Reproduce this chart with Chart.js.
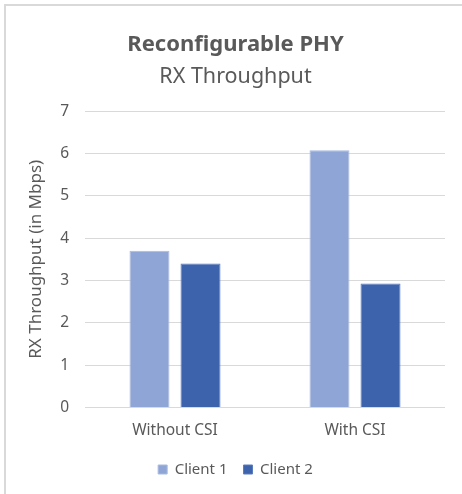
<!DOCTYPE html>
<html lang="en">
<head>
<meta charset="UTF-8">
<title>Reconfigurable PHY</title>
<script src="https://cdn.jsdelivr.net/npm/chart.js"></script>
<style>
    body {
        margin: 0;
        background: #ffffff;
    }
    .frame {
        position: absolute;
        left: 4px;
        top: 4px;
        width: 470px;
        height: 500px;
        border-left: 2px solid #d9d9d9;
        border-top: 2px solid #d9d9d9;
        pointer-events: none;
    }
    #chart {
        position: absolute;
        left: 0;
        top: 0;
    }
</style>
</head>
<body>
<canvas id="chart" width="462" height="494"></canvas>
<div class="frame"></div>
<script>
    // data
    const categories = ['Without CSI', 'With CSI'];
    const client1 = [3.7, 6.08];
    const client2 = [3.4, 2.93];
    const seriesNames = ['Client 1', 'Client 2'];
    const yTicks = [0, 1, 2, 3, 4, 5, 6, 7];

    const textColor = '#595959';
    const gridColor = '#d9d9d9';
    const fontFamily = '"Noto Sans", sans-serif';

    const ctx = document.getElementById('chart').getContext('2d');
    new Chart(ctx, {
        type: 'bar',
        data: {
            labels: categories,
            datasets: [
                {
                    label: seriesNames[0],
                    data: client1,
                    backgroundColor: '#8fa5d5',
                    borderColor: '#a9bbe0',
                    borderWidth: 1,
                    categoryPercentage: 0.567,
                    barPercentage: 0.784
                },
                {
                    label: seriesNames[1],
                    data: client2,
                    backgroundColor: '#3c63ac',
                    borderColor: '#5a7dbf',
                    borderWidth: 1,
                    categoryPercentage: 0.567,
                    barPercentage: 0.784
                }
            ]
        },
        options: {
            responsive: false,
            animation: false,
            layout: {
                padding: { left: 26, right: 17, top: 28, bottom: 7 }
            },
            plugins: {
                title: {
                    display: true,
                    text: 'Reconfigurable PHY',
                    color: textColor,
                    font: { family: fontFamily, size: 22, weight: 'bold' },
                    padding: { top: 4, bottom: 6 }
                },
                subtitle: {
                    display: true,
                    text: 'RX Throughput',
                    color: textColor,
                    font: { family: fontFamily, size: 21.5 },
                    padding: { top: 0, bottom: 21 }
                },
                legend: {
                    position: 'bottom',
                    labels: {
                        color: textColor,
                        font: { family: fontFamily, size: 15 },
                        boxWidth: 9,
                        boxHeight: 9,
                        padding: 16
                    }
                },
                tooltip: { enabled: false }
            },
            scales: {
                x: {
                    grid: { display: false },
                    border: { display: false },
                    ticks: {
                        color: textColor,
                        font: { family: fontFamily, size: 15.5 },
                        padding: 6
                    }
                },
                y: {
                    min: 0,
                    max: 7,
                    afterBuildTicks: (scale) => {
                        scale.ticks = yTicks.map(v => ({ value: v }));
                    },
                    afterFit: (scale) => {
                        scale.width = 59;
                    },
                    grid: {
                        color: gridColor,
                        drawTicks: false
                    },
                    border: { display: false },
                    ticks: {
                        color: textColor,
                        font: { family: fontFamily, size: 15.5 },
                        padding: 16
                    },
                    title: {
                        display: true,
                        text: 'RX Throughput (in Mbps)',
                        color: textColor,
                        font: { family: fontFamily, size: 17 },
                        padding: { top: 0, bottom: 0 }
                    }
                }
            }
        }
    });
</script>
</body>
</html>
